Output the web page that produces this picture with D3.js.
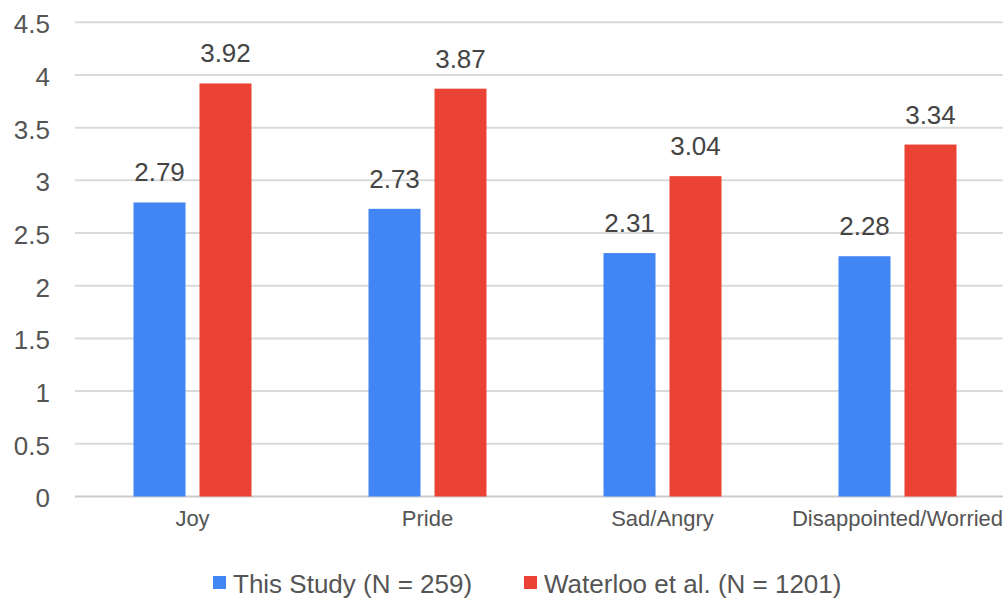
<!DOCTYPE html>
<html>
<head>
<meta charset="utf-8">
<script src="https://cdn.jsdelivr.net/npm/d3@7"></script>
<style>
  body { margin: 0; background: #fff; }
  text { font-family: "Liberation Sans", Arial, sans-serif; }
</style>
</head>
<body>
<div id="chart"></div>
<script>
var categories = ["Joy", "Pride", "Sad/Angry", "Disappointed/Worried"];
var seriesNames = ["This Study (N = 259)", "Waterloo et al. (N = 1201)"];
var thisStudy = [2.79, 2.73, 2.31, 2.28];
var waterloo = [3.92, 3.87, 3.04, 3.34];
var yTicks = [0, 0.5, 1, 1.5, 2, 2.5, 3, 3.5, 4, 4.5];
var colors = ["#4285f4", "#ea4335"];

var canvasWidth = 1003, canvasHeight = 599;

var svg = d3.select("#chart").append("svg")
    .attr("width", canvasWidth)
    .attr("height", canvasHeight)

var xScale = d3.scaleBand().domain(categories).range([75, 1015]);
var yScale = d3.scaleLinear().domain([0, 4.5]).range([496.5, 22.3]);
var xInner = d3.scaleBand().domain(seriesNames).range([-59, 59]).paddingInner(0.212);

// gridlines
svg.append("g")
    .selectAll("line")
    .data(yTicks)
    .join("line")
    .attr("x1", 75)
    .attr("x2", canvasWidth)
    .attr("y1", d => yScale(d))
    .attr("y2", d => yScale(d))
    .attr("stroke", d => d === 0 ? "#cccccc" : "#dadada")
    .attr("stroke-width", 2)

// y axis
var yAxis = svg.append("g")
    .attr("transform", "translate(50, 2)")
    .call(d3.axisLeft(yScale).tickValues(yTicks).tickSize(0).tickPadding(0).tickFormat(d => d))
yAxis.select(".domain").remove()
yAxis.selectAll("text")
    .attr("font-size", "26px")
    .attr("fill", "#555")
    .attr("font-family", "Liberation Sans, Arial, sans-serif")

// x axis labels
var xAxis = svg.append("g")
    .attr("transform", "translate(0, 510)")
    .call(d3.axisBottom(xScale).tickSize(0).tickPadding(0))
xAxis.select(".domain").remove()
xAxis.selectAll("text")
    .attr("font-size", "22px")
    .attr("fill", "#555")
    .attr("font-family", "Liberation Sans, Arial, sans-serif")

var rows = categories.map((c, i) => ({ cat: c, vals: [thisStudy[i], waterloo[i]] }))

var groups = svg.append("g")
    .selectAll("g")
    .data(rows)
    .join("g")
    .attr("transform", d => "translate(" + (xScale(d.cat) + xScale.bandwidth() / 2) + ",0)")

groups.selectAll("rect")
    .data(d => d.vals.map((v, j) => ({ name: seriesNames[j], v: v, j: j })))
    .join("rect")
    .attr("x", d => xInner(d.name))
    .attr("width", xInner.bandwidth())
    .attr("y", d => yScale(d.v))
    .attr("height", d => yScale(0) - yScale(d.v))
    .attr("fill", d => colors[d.j])

groups.selectAll("text.val")
    .data(d => d.vals.map((v, j) => ({ name: seriesNames[j], v: v, j: j })))
    .join("text")
    .attr("class", "val")
    .attr("x", d => xInner(d.name) + xInner.bandwidth() / 2)
    .attr("y", d => yScale(d.v) - 21)
    .attr("text-anchor", "middle")
    .attr("font-size", "26px")
    .attr("fill", "#444")
    .text(d => d.v.toFixed(2))

// legend
var legendX = [213, 524];
var legend = svg.append("g")
    .selectAll("g")
    .data(seriesNames)
    .join("g")
    .attr("transform", (d, i) => "translate(" + legendX[i] + ", 576)")

legend.append("rect")
    .attr("width", 13)
    .attr("height", 13)
    .attr("fill", (d, i) => colors[i])

legend.append("text")
    .attr("x", 20)
    .attr("y", 17)
    .attr("font-size", "26px")
    .attr("fill", "#555")
    .text(d => d)
</script>
</body>
</html>
